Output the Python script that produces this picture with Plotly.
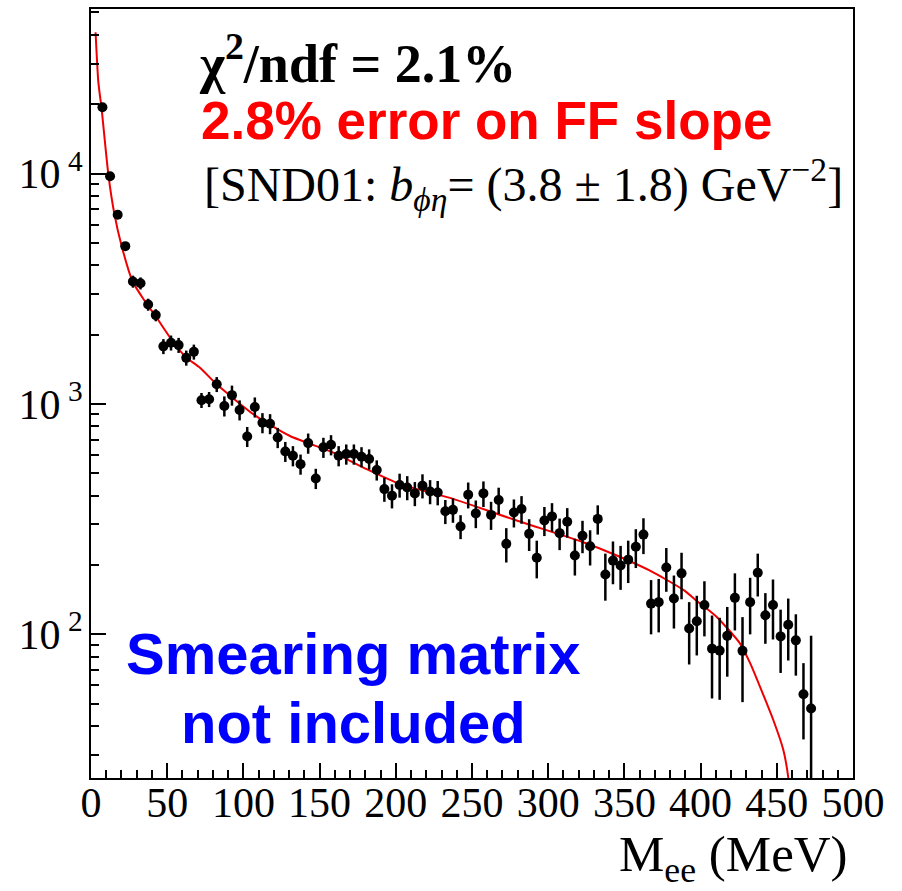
import plotly.graph_objects as go

# Bin centres (MeV)
mee = [7.5, 12.5, 17.5, 22.5, 27.5, 32.5, 37.5, 42.5, 47.5, 52.5,
       57.5, 62.5, 67.5, 72.5, 77.5, 82.5, 87.5, 92.5, 97.5, 102.5,
       107.5, 112.5, 117.5, 122.5, 127.5, 132.5, 137.5, 142.5, 147.5, 152.5,
       157.5, 162.5, 167.5, 172.5, 177.5, 182.5, 187.5, 192.5, 197.5, 202.5,
       207.5, 212.5, 217.5, 222.5, 227.5, 232.5, 237.5, 242.5, 247.5, 252.5,
       257.5, 262.5, 267.5, 272.5, 277.5, 282.5, 287.5, 292.5, 297.5, 302.5,
       307.5, 312.5, 317.5, 322.5, 327.5, 332.5, 337.5, 342.5, 347.5, 352.5,
       357.5, 362.5, 367.5, 372.5, 377.5, 382.5, 387.5, 392.5, 397.5, 402.5,
       407.5, 412.5, 417.5, 422.5, 427.5, 432.5, 437.5, 442.5, 447.5, 452.5,
       457.5, 462.5, 467.5, 472.5]

counts = [19400, 9730, 6620, 4840, 3400, 3340, 2700, 2430, 1778, 1843,
          1800, 1585, 1683, 1038, 1048, 1217, 980, 1092, 942, 722,
          970, 829, 821, 715, 622, 596, 548, 676, 475, 648,
          665, 596, 606, 606, 590, 577, 517, 427, 400, 445,
          434, 409, 442, 417, 413, 342, 347, 294, 404, 335,
          409, 330, 383, 247, 338, 350, 273, 215, 312, 325,
          275, 308, 220, 268, 241, 317, 182, 209, 199, 211,
          240, 271, 136, 138, 195, 143, 184, 106, 114, 134,
          86.7, 85, 98.5, 144, 84.8, 138, 185, 121, 134, 98,
          110, 94.2, 55, 47.7]

errors = [580, 290, 200, 145, 204, 200, 162, 146, 133, 138,
          135, 119, 126, 78, 79, 91, 98, 109, 94, 72,
          97, 83, 82, 72, 62, 60, 55, 68, 48, 65,
          67, 60, 61, 61, 59, 58, 52, 51, 48, 53,
          52, 49, 53, 50, 50, 41, 42, 35, 52, 46,
          52, 46, 50, 42, 47, 48, 43, 40, 45, 46,
          43, 45, 40, 43, 42, 46, 42, 44, 43, 44,
          46, 48, 36, 36, 42, 37, 42, 32, 33, 36,
          34, 33, 33, 40, 34, 38, 39, 30, 39, 30,
          33, 28, 20, 51]

# Fit curve
fit_x = [3.0, 4.8, 7.0, 11.4, 15.3, 20.1, 27.3, 35.4, 43.1, 55.1,
         62.8, 71.5, 82.5, 106.5, 130.6, 159.0, 180.9, 202.8, 235.6, 279.3,
         323.0, 345.0, 366.8, 388.7, 397.4, 410.6, 425.9, 432.5, 439.0, 447.7,
         454.3, 457.6, 460.0]
fit_y = [41000, 25000, 19000, 9900, 6700, 4850, 3400, 2790, 2365, 1811,
         1585, 1435, 1217, 902, 726, 615, 521, 449, 391, 312,
         251, 220, 189, 156, 140, 119, 91.2, 75, 59.2, 42.5,
         31.5, 23.7, 15]

xtick_vals = [0, 50, 100, 150, 200, 250, 300, 350, 400, 450, 500]
ytick_vals = [100, 1000, 10000]
ytick_text = ["10<sup> 2</sup>", "10<sup> 3</sup>", "10<sup> 4</sup>"]
yminor = [m * 10 ** e for e in range(1, 5) for m in range(2, 10)]

serif = "Liberation Serif"
sans = "Liberation Sans"

fig = go.Figure()
fig.add_trace(go.Scatter(
    x=fit_x, y=fit_y, mode="lines",
    line=dict(color="#ee0000", width=2, shape="spline", smoothing=0.6),
    showlegend=False, hoverinfo="skip"))
fig.add_trace(go.Scatter(
    x=mee, y=counts, mode="markers",
    marker=dict(color="black", size=10),
    error_y=dict(type="data", array=errors, color="black", thickness=2.5, width=0),
    showlegend=False))

fig.update_layout(
    width=902, height=891,
    margin=dict(l=91, r=49, t=7, b=113),
    paper_bgcolor="white", plot_bgcolor="white",
    xaxis=dict(range=[0, 500], tickvals=xtick_vals, ticks="inside", ticklen=15,
               tickwidth=2, tickcolor="black", showline=True, linewidth=2,
               linecolor="black", mirror=True, showgrid=False, zeroline=False,
               ticklabelstandoff=-13,
               tickfont=dict(family=serif, size=42, color="black"),
               minor=dict(dtick=10, ticks="inside", ticklen=8, tickwidth=2,
                          tickcolor="black", showgrid=False)),
    yaxis=dict(type="log", range=[1.3766, 4.714], tickvals=ytick_vals,
               ticktext=ytick_text, ticks="inside", ticklen=15, tickwidth=2,
               tickcolor="black", showline=True, linewidth=2, linecolor="black",
               mirror=True, showgrid=False, zeroline=False,
               ticklabelstandoff=-2,
               tickfont=dict(family=serif, size=42, color="black"),
               minor=dict(tickvals=yminor, ticks="inside", ticklen=8,
                          tickwidth=2, tickcolor="black", showgrid=False)),
)

annotations = [
    dict(text="<b>χ<sup>2</sup>/ndf = 2.1%</b>", x=0.139, y=0.934,
         font=dict(family=serif, size=54, color="black"), xanchor="left", yanchor="middle"),
    dict(text="<b>2.8% error on FF slope</b>", x=0.1415, y=0.855,
         font=dict(family=sans, size=53, color="#ff0000"), xanchor="left", yanchor="middle"),
    dict(text="[SND01: <i>b</i><sub><i>ϕη</i></sub>= (3.8 ± 1.8) GeV<sup>−2</sup>]",
         x=0.146, y=0.772, font=dict(family=serif, size=48, color="black"),
         xanchor="left", yanchor="middle"),
    dict(text="<b>Smearing matrix</b>", x=0.344, y=0.162,
         font=dict(family=sans, size=58, color="#0000ff"), xanchor="center", yanchor="middle"),
    dict(text="<b>not included</b>", x=0.344, y=0.0726,
         font=dict(family=sans, size=58, color="#0000ff"), xanchor="center", yanchor="middle"),
    dict(text="M<sub>ee</sub> (MeV)", x=0.996, y=-0.104,
         font=dict(family=serif, size=51, color="black"), xanchor="right", yanchor="middle"),
]
for a in annotations:
    a.update(xref="paper", yref="paper", showarrow=False)
fig.update_layout(annotations=annotations)

fig.write_html("out.html")
